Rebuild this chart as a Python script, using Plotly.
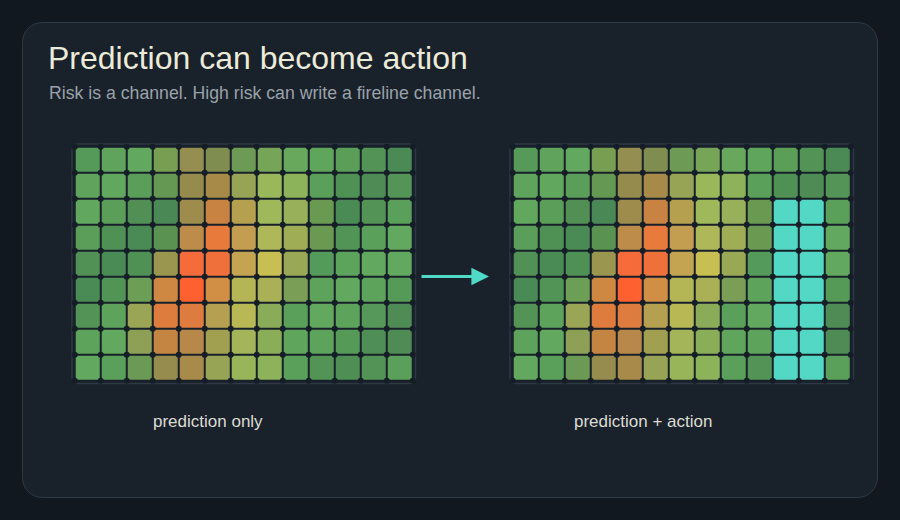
import plotly.graph_objects as go

# ---------------- data ----------------
title_text = "Prediction can become action"
subtitle_text = "Risk is a channel. High risk can write a fireline channel."
panel_labels = ["prediction only", "prediction + action"]

# predicted risk field, colour of each cell (9 rows x 13 columns, row 0 at top)
prediction_colors = [
    ["#559a58", "#5fa35c", "#62a85e", "#789e52", "#948f50", "#7f8e50", "#6d9a55", "#76a558", "#68a85c", "#5fa65c", "#5a9e58", "#539456", "#4b8a55"],
    ["#5fa35c", "#62a75e", "#5a9e5a", "#659852", "#948b4c", "#a88a48", "#98a455", "#9ab85a", "#8cb25a", "#5a9f5a", "#4f9155", "#4f8c55", "#549456"],
    ["#62a75e", "#5a9e5a", "#518f55", "#4a8855", "#9d8c4c", "#c88242", "#b5a050", "#9fb85a", "#98b05a", "#6a9a52", "#4a8a55", "#539456", "#5a9f5a"],
    ["#5a9e5a", "#4f9155", "#4a8a55", "#5a9252", "#be8c4a", "#e87a3c", "#c49e50", "#aeb858", "#9fae55", "#6a9a52", "#519455", "#5aa05a", "#62a85e"],
    ["#519155", "#4a8a55", "#4f9155", "#9a9650", "#f56b3a", "#f0703c", "#c4a450", "#c8bf52", "#98a855", "#549a5a", "#5ca35c", "#62a85e", "#62a85e"],
    ["#4a8a55", "#519455", "#6d9e55", "#cf8842", "#ff6030", "#d08f45", "#b4b555", "#aab055", "#7a9e55", "#5ea35c", "#62a85e", "#5ea35c", "#569a58"],
    ["#539456", "#5ea35c", "#9aa555", "#dd7c3c", "#de7c40", "#b4a050", "#b8b855", "#8aac58", "#5aa05a", "#62a85e", "#5ea35c", "#56985a", "#4f8c55"],
    ["#5ea35c", "#62a85e", "#8ea055", "#c48542", "#b8884a", "#a0a050", "#a4b458", "#8aad58", "#5fa65c", "#5ea35c", "#569a58", "#4f8e55", "#4f8c55"],
    ["#62a85e", "#5aa05a", "#6a9a55", "#958c4e", "#a88a4a", "#98a455", "#98b55a", "#8cb25a", "#5aa05a", "#539456", "#4f8e55", "#539456", "#5a9f5a"],
]

# fireline channel written by the action (rows x columns)
fireline_rows = [2, 3, 4, 5, 6, 7, 8]
fireline_cols = [10, 11]
fireline_color = "#52d8c4"

# ---------------- styling ----------------
W, H = 900, 520
BG = "#111820"
CARD = "#19212b"
CARD_LINE = "#2f3a46"
FRAME = "#18202a"
FRAME_LINE = "#2e3945"
GAP = "#151d27"
FONT = "Liberation Sans, Arial, sans-serif"

n_rows = len(prediction_colors)
n_cols = len(prediction_colors[0])

action_colors = [row[:] for row in prediction_colors]
for r in fireline_rows:
    for c in fireline_cols:
        action_colors[r][c] = fireline_color


def px_x(x):
    return x / W


def px_y(y):
    return 1 - y / H


def rounded_path(x0, y0, x1, y1, r):
    k = 0.5523 * r
    pts = [
        f"M {px_x(x0 + r)},{px_y(y0)}",
        f"L {px_x(x1 - r)},{px_y(y0)}",
        f"C {px_x(x1 - r + k)},{px_y(y0)} {px_x(x1)},{px_y(y0 + r - k)} {px_x(x1)},{px_y(y0 + r)}",
        f"L {px_x(x1)},{px_y(y1 - r)}",
        f"C {px_x(x1)},{px_y(y1 - r + k)} {px_x(x1 - r + k)},{px_y(y1)} {px_x(x1 - r)},{px_y(y1)}",
        f"L {px_x(x0 + r)},{px_y(y1)}",
        f"C {px_x(x0 + r - k)},{px_y(y1)} {px_x(x0)},{px_y(y1 - r + k)} {px_x(x0)},{px_y(y1 - r)}",
        f"L {px_x(x0)},{px_y(y0 + r)}",
        f"C {px_x(x0)},{px_y(y0 + r - k)} {px_x(x0 + r - k)},{px_y(y0)} {px_x(x0 + r)},{px_y(y0)}",
        "Z",
    ]
    return " ".join(pts)


# panel geometry in pixels
pitch = 26
grid_w = pitch * n_cols
grid_h = pitch * n_rows
panel_left = [74.75, 512.75]
panel_top = 146.75
pad = 2.75

fig = go.Figure()

shapes = [
    dict(type="path", path=rounded_path(22.5, 22.5, 877.5, 497.5, 20), xref="paper", yref="paper",
         fillcolor=CARD, line=dict(color=CARD_LINE, width=1), layer="below"),
]

for i, (colors, left) in enumerate(zip([prediction_colors, action_colors], panel_left)):
    xa = "x" if i == 0 else "x2"
    ya = "y" if i == 0 else "y2"
    shapes.append(dict(type="path",
                       path=rounded_path(left - pad, panel_top - pad, left + grid_w + pad, panel_top + grid_h + pad, 6),
                       xref="paper", yref="paper", fillcolor=FRAME,
                       line=dict(color=FRAME_LINE, width=1.5), layer="below"))
    xs, ys, cs = [], [], []
    for r in range(n_rows):
        for c in range(n_cols):
            xs.append(c)
            ys.append(r)
            cs.append(colors[r][c])
    fig.add_trace(go.Scatter(
        x=xs, y=ys, mode="markers", xaxis=xa, yaxis=ya,
        marker=dict(symbol="square", size=24, color=cs, line=dict(width=0)),
        hovertemplate="col %{x}, row %{y}<extra></extra>", showlegend=False, cliponaxis=False,
    ))
    # grid junction dots
    jx, jy = [], []
    for r in range(n_rows + 1):
        for c in range(n_cols + 1):
            jx.append(c - 0.5)
            jy.append(r - 0.5)
    fig.add_trace(go.Scatter(
        x=jx, y=jy, mode="markers", xaxis=xa, yaxis=ya,
        marker=dict(symbol="circle", size=6, color=GAP, line=dict(width=0)),
        hoverinfo="skip", showlegend=False, cliponaxis=False,
    ))

axis_common = dict(showgrid=False, zeroline=False, showticklabels=False, ticks="", showline=False, fixedrange=True)
layout_axes = {}
for i, left in enumerate(panel_left):
    sfx = "" if i == 0 else "2"
    layout_axes[f"xaxis{sfx}"] = dict(axis_common, domain=[px_x(left), px_x(left + grid_w)],
                                      range=[-0.5, n_cols - 0.5], anchor=f"y{sfx}")
    layout_axes[f"yaxis{sfx}"] = dict(axis_common, domain=[px_y(panel_top + grid_h), px_y(panel_top)],
                                      range=[n_rows - 0.5, -0.5], anchor=f"x{sfx}")

annotations = [
    dict(text=title_text, x=px_x(46), y=px_y(58), xref="paper", yref="paper", xanchor="left", yanchor="middle",
         showarrow=False, font=dict(family=FONT, size=32, color="#ecebd9")),
    dict(text=subtitle_text, x=px_x(47), y=px_y(92.5), xref="paper", yref="paper", xanchor="left", yanchor="middle",
         showarrow=False, font=dict(family=FONT, size=17.7, color="#9aa2a9")),
    dict(text=panel_labels[0], x=px_x(208), y=px_y(421), xref="paper", yref="paper", xanchor="center",
         yanchor="middle", showarrow=False, font=dict(family=FONT, size=17, color="#dcdcd2")),
    dict(text=panel_labels[1], x=px_x(643), y=px_y(421), xref="paper", yref="paper", xanchor="center",
         yanchor="middle", showarrow=False, font=dict(family=FONT, size=17, color="#dcdcd2")),
    dict(text="", x=px_x(489), y=px_y(276.5), xref="paper", yref="paper", ax=-69, ay=0,
         showarrow=True, arrowhead=2, arrowsize=1.1, arrowwidth=3.2, arrowcolor="#4fd9c6"),
]

fig.update_layout(
    width=W, height=H, margin=dict(l=0, r=0, t=0, b=0),
    paper_bgcolor=BG, plot_bgcolor="rgba(0,0,0,0)",
    shapes=shapes, annotations=annotations, showlegend=False,
    **layout_axes,
)

fig.write_html(
    "out.html",
    config={"displayModeBar": False},
    post_script="document.body.style.margin='0';document.body.style.background='#111820';document.body.style.overflow='hidden';",
)
